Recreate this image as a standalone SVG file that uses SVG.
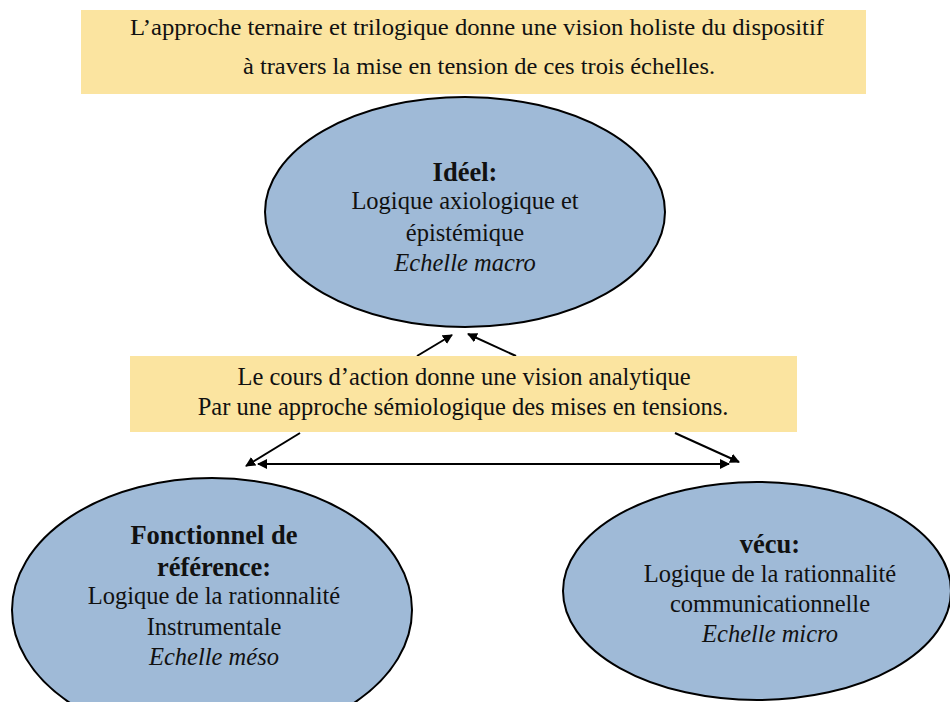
<svg xmlns="http://www.w3.org/2000/svg" width="950" height="702" viewBox="0 0 950 702">
<style>
.box{fill:#fbe4a0;stroke:none}
.ell{fill:#9fbad7;stroke:#000;stroke-width:2}
text{font-family:"Liberation Serif","Times New Roman",serif;fill:#111;text-anchor:middle}
.t{font-size:24.5px}
.h{font-size:24px}
.b{font-size:26.5px;font-weight:bold}
.i{font-size:24.5px;font-style:italic}
.c{stroke:#000;stroke-width:2;fill:none;marker-end:url(#ah)}
</style>
<defs>
<marker id="ah" viewBox="0 0 10 10" refX="9" refY="5" markerWidth="5" markerHeight="5" orient="auto-start-reverse" markerUnits="strokeWidth">
<path d="M0,0 L10,5 L0,10 z" fill="#000"/>
</marker>
</defs>
<rect width="950" height="702" fill="#fff"/>
<g id="top-note">
<rect class="box" x="81" y="10" width="785" height="84"/>
<text class="h" x="477" y="35" textLength="694" lengthAdjust="spacingAndGlyphs">L’approche ternaire et trilogique donne une vision holiste du dispositif</text>
<text class="h" x="479" y="74" textLength="472" lengthAdjust="spacingAndGlyphs">à travers la mise en tension de ces trois échelles.</text>
</g>
<g id="ideel">
<ellipse class="ell" cx="465" cy="212" rx="200" ry="115"/>
<text class="b" x="465" y="181">Idéel:</text>
<text class="t" x="465" y="209">Logique axiologique et</text>
<text class="t" x="465" y="241">épistémique</text>
<text class="i" x="465" y="271">Echelle macro</text>
</g>
<g id="fonctionnel">
<ellipse class="ell" cx="212" cy="610" rx="200" ry="132"/>
<text class="b" x="214" y="544">Fonctionnel de</text>
<text class="b" x="214" y="576">référence:</text>
<text class="t" x="214" y="604">Logique de la rationnalité</text>
<text class="t" x="214" y="635">Instrumentale</text>
<text class="i" x="214" y="665">Echelle méso</text>
</g>
<g id="vecu">
<ellipse class="ell" cx="757" cy="591" rx="194" ry="109"/>
<text class="b" x="770" y="553">vécu:</text>
<text class="t" x="770" y="582">Logique de la rationnalité</text>
<text class="t" x="770" y="612">communicationnelle</text>
<text class="i" x="770" y="642">Echelle micro</text>
</g>
<g id="connectors">
<line class="c" x1="417" y1="356" x2="452" y2="335"/>
<line class="c" x1="516" y1="356" x2="468" y2="334"/>
<line class="c" x1="300" y1="433" x2="246" y2="466"/>
<line class="c" x1="675" y1="433" x2="739" y2="462"/>
<line class="c" x1="258" y1="464" x2="729" y2="464" style="marker-start:url(#ah)"/>
</g>
<g id="middle-note">
<rect class="box" x="130" y="356" width="667" height="76"/>
<text class="t" x="464" y="385">Le cours d’action donne une vision analytique</text>
<text class="t" x="463" y="415">Par une approche sémiologique des mises en tensions.</text>
</g>
</svg>
